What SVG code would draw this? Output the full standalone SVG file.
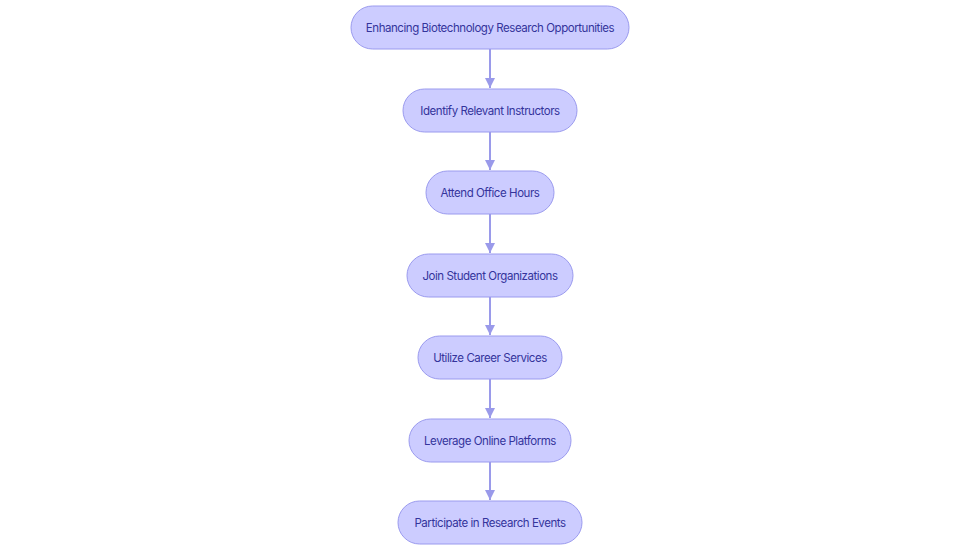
<svg xmlns="http://www.w3.org/2000/svg" width="980" height="553" viewBox="0 0 980 553">
<style>
.node rect{fill:#ccccff;stroke:#9a9aee;stroke-width:1}
.node text{font-family:Inter,"Noto Sans",sans-serif;font-size:11.5px;fill:#34349c;text-anchor:middle;dominant-baseline:central;letter-spacing:-0.45px}
.edge{stroke:#9a9aea;stroke-width:2;fill:none}
</style>
<defs>
<marker id="ah" viewBox="0 0 10 10" refX="10" refY="5" markerWidth="5" markerHeight="5" markerUnits="strokeWidth" orient="auto">
<path d="M0,0 L10,5 L0,10 z" fill="#9a9aea"/>
</marker>
</defs>
<rect width="980" height="553" fill="#ffffff"/>
<g id="connectors">
<path class="edge" d="M490,49 V88" marker-end="url(#ah)"/>
<path class="edge" d="M490,132 V170" marker-end="url(#ah)"/>
<path class="edge" d="M490,214 V253" marker-end="url(#ah)"/>
<path class="edge" d="M490,297 V335" marker-end="url(#ah)"/>
<path class="edge" d="M490,379 V418" marker-end="url(#ah)"/>
<path class="edge" d="M490,462 V500" marker-end="url(#ah)"/>
</g>
<g id="n1" class="node"><rect x="351" y="6" width="278" height="43" rx="21.5"/><text x="490" y="27.5">Enhancing Biotechnology Research Opportunities</text></g>
<g id="n2" class="node"><rect x="403" y="89" width="174" height="43" rx="21.5"/><text x="490" y="110.5">Identify Relevant Instructors</text></g>
<g id="n3" class="node"><rect x="426" y="171" width="128" height="43" rx="21.5"/><text x="490" y="192.5">Attend Office Hours</text></g>
<g id="n4" class="node"><rect x="407" y="254" width="166" height="43" rx="21.5"/><text x="490" y="275.5">Join Student Organizations</text></g>
<g id="n5" class="node"><rect x="418" y="336" width="144" height="43" rx="21.5"/><text x="490" y="357.5">Utilize Career Services</text></g>
<g id="n6" class="node"><rect x="409" y="419" width="162" height="43" rx="21.5"/><text x="490" y="440.5">Leverage Online Platforms</text></g>
<g id="n7" class="node"><rect x="398" y="501" width="184" height="43" rx="21.5"/><text x="490" y="522.5">Participate in Research Events</text></g>
</svg>
